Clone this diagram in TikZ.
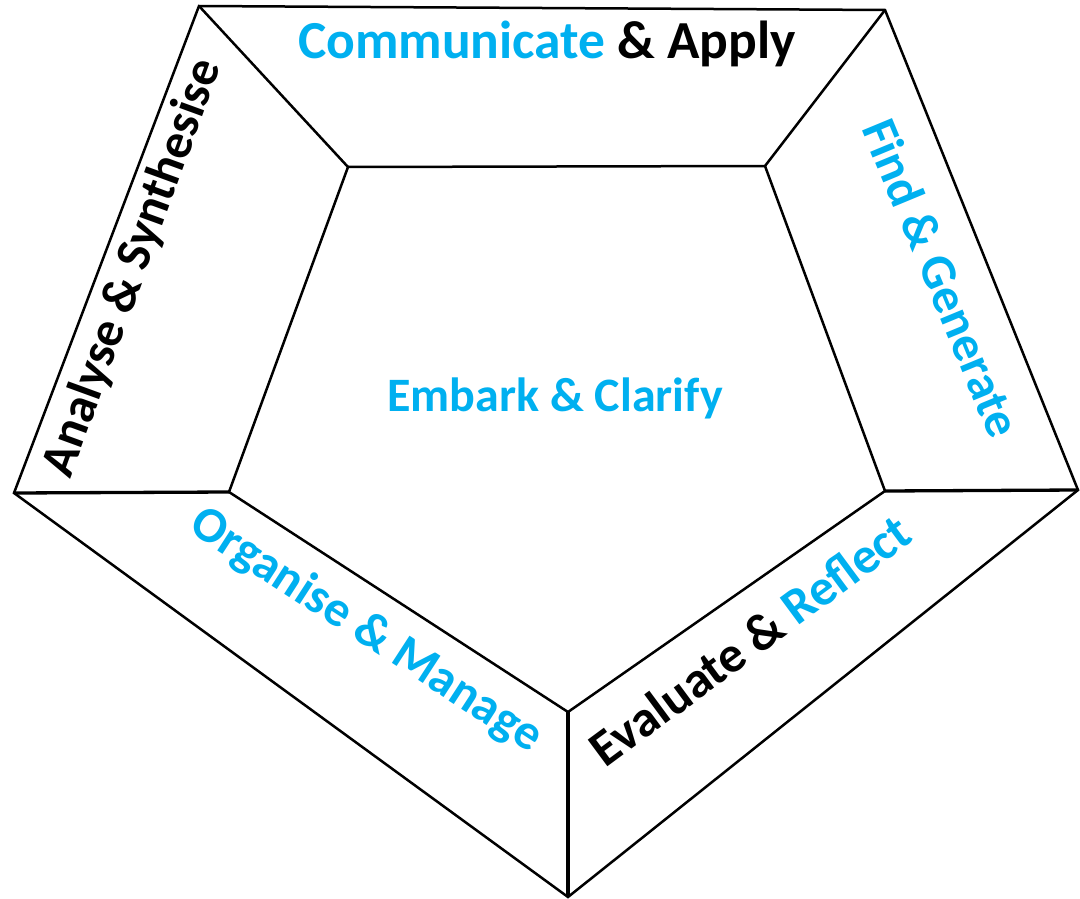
\documentclass[tikz,border=0pt]{standalone}
\usepackage{fontspec}
\setmainfont{Carlito}
\definecolor{skyblue}{HTML}{00B0F0}
\begin{document}
\begin{tikzpicture}[x=1pt,y=-1pt,
  edge/.style={draw=black,line width=2.5pt,line join=miter},
  spoke/.style={draw=black,line width=3.3pt},
  label/.style={font=\fontsize{50}{50}\selectfont\bfseries,inner sep=0pt,anchor=center}]
\fill[white] (0,0) rectangle (1080,899);
\useasboundingbox (0,0) rectangle (1080,899);
% outer pentagon corners
\coordinate (o1) at (199,6);
\coordinate (o2) at (885,10);
\coordinate (o3) at (1078,490);
\coordinate (o4) at (568,897);
\coordinate (o5) at (14,493);
% inner pentagon corners
\coordinate (i1) at (348,167);
\coordinate (i2) at (765,166);
\coordinate (i3) at (885,491);
\coordinate (i4) at (568,712);
\coordinate (i5) at (229,492);
% frames
\draw[edge] (o1) -- (o2) -- (o3) -- (o4) -- (o5) -- cycle;
\draw[edge] (i1) -- (i2) -- (i3) -- (i4) -- (i5) -- cycle;
% spokes joining the two pentagons
\draw[edge] (o1) -- (i1);
\draw[edge] (o2) -- (i2);
\draw[spoke] (o3) -- (i3);
\draw[spoke] (o4) -- (i4);
\draw[spoke] (o5) -- (i5);
% labels
\node[label,font=\fontsize{53.5}{53.5}\selectfont\bfseries] (top) at (547,44) {\textcolor{skyblue}{Communicate} \& Apply};
\node[label,font=\fontsize{48}{48}\selectfont\bfseries,text=skyblue] (mid) at (555,398) {Embark \& Clarify};
\node[label,rotate=70] (left) at (133,268) {Analyse \& Synthesise};
\node[label,rotate=-67.5,text=skyblue] (right) at (942,278) {Find \& Generate};
\node[label,rotate=-33,text=skyblue] (lowleft) at (366,631) {Organise \& Manage};
\node[label,font=\fontsize{51}{51}\selectfont\bfseries,rotate=36.5] (lowright) at (750,640) {Evaluate \& \textcolor{skyblue}{Reflect}};
\end{tikzpicture}
\end{document}
